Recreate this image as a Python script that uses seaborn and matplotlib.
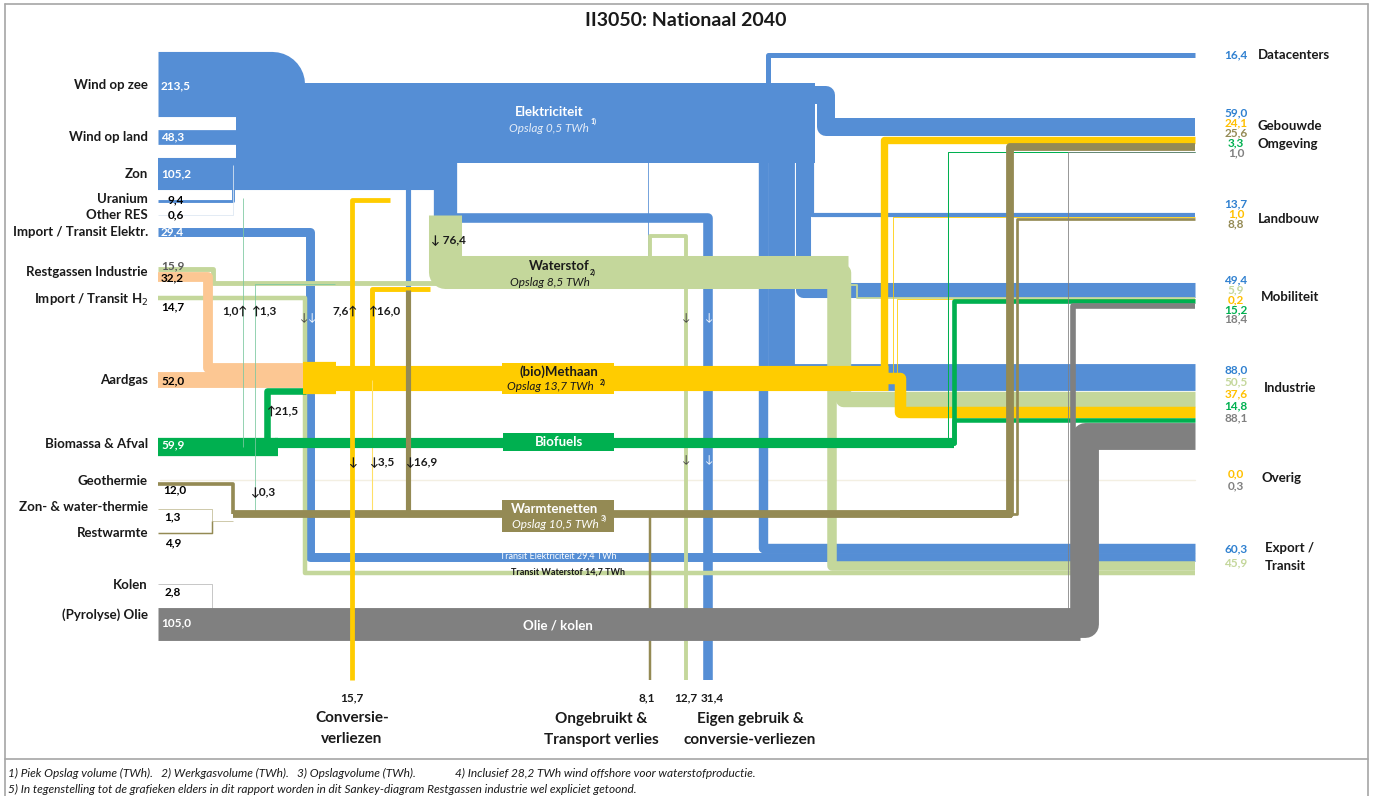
import matplotlib
matplotlib.use("Agg")
import matplotlib.pyplot as plt
from matplotlib.patches import Rectangle
import seaborn as sns

sns.set_theme(style="white")
plt.rcParams['font.family'] = ['Lato', 'DejaVu Sans']

# ---------------- data (TWh) ----------------
elec_src_names = ["Wind op zee", "Wind op land", "Zon", "Uranium", "Other RES", "Import / Transit Elektr."]
elec_src_values = [213.5, 48.3, 105.2, 9.4, 0.6, 29.4]
restgas_values = [15.9, 32.2]          # waterstof, gas
import_h2_value = 14.7
aardgas_value = 52.0
biomassa_value = 59.9
heat_src_names = ["Geothermie", "Zon- & water-thermie", "Restwarmte"]
heat_src_values = [12.0, 1.3, 4.9]
fossil_src_names = ["Kolen", "(Pyrolyse) Olie"]
fossil_src_values = [2.8, 105.0]

sink_names = ["Datacenters", "Gebouwde Omgeving", "Landbouw", "Mobiliteit",
              "Industrie", "Overig", "Export / Transit"]
sink_elec = [16.4, 59.0, 13.7, 49.4, 88.0, None, 60.3]
sink_h2 = [None, None, None, 5.9, 50.5, None, 45.9]
sink_methaan = [None, 24.1, 1.0, 0.2, 37.6, 0.0, None]
sink_heat = [None, 25.6, 8.8, None, None, None, None]
sink_bio = [None, 3.3, None, 15.2, 14.8, None, None]
sink_fossil = [None, 1.0, None, 18.4, 88.1, 0.3, None]

# conversions between carriers
elec_to_h2 = 76.4
elec_to_heat = 16.9
gas_to_h2 = 16.0
bio_to_gas = 21.5
gas_to_heat = 3.5
small_flows = [1.0, 1.3, 7.6, 0.3]

loss_methaan = 15.7
loss_heat = 8.1
loss_h2 = 12.7
loss_elec = 31.4

# ---------------- styling / layout ----------------
COL = {"E": "#558ed5", "H": "#c4d79b", "M": "#ffcc00", "W": "#948a54",
       "B": "#00b050", "O": "#808080", "P": "#fcc793"}
TXT = {"E": "#2f80d0", "H": "#c4d79b", "M": "#ffc000", "W": "#948a54",
       "B": "#00b050", "O": "#808080"}
ZORD = {"E": 2, "H": 3, "M": 4.6, "W": 6, "B": 5, "O": 7}
pal = sns.color_palette([COL[k] for k in "EHMWBO"])

S = 0.305            # pixels per TWh
PX2PT = 72 / 100
X_END = 1195
Y_LOSS = 680

fig = plt.figure(figsize=(13.73, 7.96), dpi=100)
ax = fig.add_axes([0, 0, 1, 1])
ax.set_xlim(0, 1373)
ax.set_ylim(796, 0)
ax.axis("off")


def band(pts, width_px, color, z, alpha=1.0):
    clean = [pts[0]]
    for p in pts[1:]:
        if p != clean[-1]:
            clean.append(p)
    xs, ys = zip(*clean)
    ax.plot(xs, ys, color=color, lw=max(width_px, 0.8) * PX2PT, alpha=alpha,
            solid_joinstyle="round", solid_capstyle="butt", zorder=z)


def flow(pts, value, color, z):
    band(pts, value * S, color, z)


# stack every sink from its top
carrier_order = ["E", "H", "M", "W", "B", "O"]
sink_table = {"E": sink_elec, "H": sink_h2, "M": sink_methaan,
              "W": sink_heat, "B": sink_bio, "O": sink_fossil}
sink_top = [52.5, 118, 213, 282, 364, 478, 543]
seg = {}
for i, top in enumerate(sink_top):
    cur = top
    for c in carrier_order:
        v = sink_table[c][i]
        if v is not None:
            seg[(i, c)] = cur
            cur += v * S


def to_sink(c, value, start, lane, sink, offset=0.0):
    y = seg[(sink, c)] + (offset + value / 2) * S
    pts = list(start) + [(lane, start[-1][1]), (lane, y), (X_END, y)]
    band(pts, value * S, COL[c], ZORD[c])


GEB, LAN, MOB, IND, OVE, EXP = 1, 2, 3, 4, 5, 6

# ---------------- Elektriciteit ----------------
ax.add_patch(Rectangle((236, 83), 815 - 236, 80, color=COL["E"], zorder=2, lw=0))
flow([(158, 84), (272, 84), (272, 120)], elec_src_values[0], COL["E"], 2)
flow([(158, 137), (245, 137)], elec_src_values[1], COL["E"], 2)
flow([(158, 174), (452, 174)], elec_src_values[2], COL["E"], 2)
flow([(158, 201), (233, 201), (233, 165)], elec_src_values[3], COL["E"], 2)
flow([(158, 215), (233, 215), (233, 165)], elec_src_values[4], "#dce6f2", 2)
flow([(445, 160), (445, 222)], elec_to_h2, COL["E"], 2)
flow([(440, 218), (708, 218), (708, Y_LOSS)], loss_elec, COL["E"], 2)
flow([(408, 160), (408, 292)], elec_to_heat, COL["E"], 2)
flow([(648, 160), (648, 262)], small_flows[3], COL["E"], 2)
to_sink("E", sink_elec[0], [(768, 95)], 768, 0)
to_sink("E", sink_elec[GEB], [(790, 95), (826, 95)], 826, GEB)
to_sink("E", sink_elec[LAN], [(812, 150)], 812, LAN)
to_sink("E", sink_elec[MOB], [(803, 150)], 803, MOB)
to_sink("E", sink_elec[IND], [(781, 150)], 781, IND)
transit_e = elec_src_values[5]
to_sink("E", sink_elec[EXP] - transit_e, [(763, 150)], 763, EXP)
to_sink("E", transit_e, [(158, 232), (310, 232)], 310, EXP, offset=sink_elec[EXP] - transit_e)

# ---------------- Waterstof ----------------
h2_bus = (elec_to_h2 + restgas_values[0] + gas_to_h2) * S
band([(445, 215), (445, 272), (848, 272)], h2_bus, COL["H"], 3)
flow([(158, 269), (213, 269), (213, 283), (445, 283)], restgas_values[0], COL["H"], 3)
to_sink("H", import_h2_value, [(158, 298), (305, 298)], 305, EXP, offset=sink_h2[EXP] - import_h2_value)
to_sink("H", sink_h2[IND], [(700, 272), (843, 272)], 843, IND)
to_sink("H", sink_h2[EXP] - import_h2_value, [(700, 272), (832, 272)], 832, EXP)
to_sink("H", sink_h2[MOB], [(840, 285), (857, 285)], 857, MOB)
flow([(650, 265), (650, 236), (686, 236), (686, Y_LOSS)], loss_h2, COL["H"], 3)

# ---------------- (bio)Methaan ----------------
flow([(158, 380), (306, 380)], aardgas_value, COL["P"], 4)
flow([(158, 277), (208, 277), (208, 368), (306, 368)], restgas_values[1], COL["P"], 4)
flow([(267, 447), (267, 391), (306, 391)], bio_to_gas, COL["B"], 4)
gas_in = (aardgas_value + restgas_values[1] + bio_to_gas) * S
band([(303, 378), (336, 378)], gas_in, COL["M"], 4.5)
gas_out = sum(v for v in sink_methaan if v) + gas_to_h2 + gas_to_heat
band([(330, 378), (888, 378)], gas_out * S, COL["M"], 4.5)
for sink, lane in [(GEB, 884), (LAN, 893), (MOB, 897), (IND, 900)]:
    to_sink("M", sink_methaan[sink], [(860, 378), (lane, 378)], lane, sink)
flow([(372, 378), (372, 289), (430, 289)], gas_to_h2, COL["M"], 4.6)
flow([(390, 200), (352, 200), (352, Y_LOSS)], loss_methaan, COL["M"], 8)
flow([(372, 380), (372, 516), (405, 516)], gas_to_heat, "#ffe066", 4.6)

# ---------------- Biofuels ----------------
flow([(158, 447), (278, 447)], biomassa_value, COL["B"], 5)
bio_out = sum(v for v in sink_bio if v)
band([(275, 443), (954, 443)], bio_out * S, COL["B"], 5)
to_sink("B", sink_bio[MOB], [(900, 443), (954, 443)], 954, MOB)
to_sink("B", sink_bio[IND], [(900, 443), (954, 443)], 954, IND)
to_sink("B", sink_bio[GEB], [(900, 443), (948, 443)], 948, GEB)
flow([(243, 447), (243, 198)], small_flows[0], "#7cc9a0", 5)
flow([(255, 512), (255, 284), (335, 284)], small_flows[1], "#7cc9a0", 5)

# ---------------- Warmtenetten ----------------
flow([(408, 290), (408, 514), (440, 514)], elec_to_heat, COL["W"], 6)
flow([(158, 484), (233, 484), (233, 514)], heat_src_values[0], COL["W"], 6)
flow([(158, 509), (212, 509), (212, 521), (233, 521)], heat_src_values[1], "#c4bd97", 6)
flow([(158, 533), (212, 533), (212, 521)], heat_src_values[2], COL["W"], 6)
band([(233, 514), (1012, 514)], sink_heat[GEB] * S, COL["W"], 6)
to_sink("W", sink_heat[GEB], [(900, 514), (1010, 514)], 1010, GEB)
to_sink("W", sink_heat[LAN], [(900, 514), (1017, 514)], 1017, LAN)
flow([(650, 514), (650, Y_LOSS)], loss_heat, COL["W"], 6)

# ---------------- Olie / kolen ----------------
flow([(158, 584), (212, 584), (212, 610)], fossil_src_values[0], "#bfbfbf", 7)
band([(158, 624), (1080, 624)], sum(fossil_src_values) * S, COL["O"], 7)
to_sink("O", sink_fossil[IND], [(1000, 624), (1085, 624)], 1085, IND)
to_sink("O", sink_fossil[MOB], [(1000, 624), (1073, 624)], 1073, MOB)
to_sink("O", sink_fossil[GEB], [(1000, 624), (1068, 624)], 1068, GEB)
ax.plot([160, X_END], [480, 480], color="#f3efe2", lw=1, zorder=1)

# ---------------- node labels ----------------
left_names = elec_src_names + ["Restgassen Industrie", "Import / Transit H$_2$", "Aardgas",
                               "Biomassa & Afval"] + heat_src_names + fossil_src_names
left_name_y = [85, 137, 174, 199, 215, 232, 272, 300, 380, 444, 481, 507, 533, 585, 615]
for name, y in zip(left_names, left_name_y):
    ax.text(148, y, name, ha="right", va="center", fontsize=9.5, weight="bold", color="#1a1a1a", zorder=10)


def fmt(v):
    return f"{v:.1f}".replace(".", ",")


left_vals = [(elec_src_values[0], 161, 86, "white"), (elec_src_values[1], 161, 137, "white"),
             (elec_src_values[2], 161, 174, "white"), (elec_src_values[3], 168, 200, "black"),
             (elec_src_values[4], 168, 215, "black"), (elec_src_values[5], 161, 232, "white"),
             (restgas_values[0], 161, 266, "#595959"), (restgas_values[1], 161, 278, "black"),
             (import_h2_value, 161, 307, "black"), (aardgas_value, 161, 381, "black"),
             (biomassa_value, 161, 445, "white"), (heat_src_values[0], 163, 490, "black"),
             (heat_src_values[1], 164, 517, "black"), (heat_src_values[2], 165, 543, "black"),
             (fossil_src_values[0], 165, 592, "black"), (fossil_src_values[1], 161, 623, "white")]
for v, x, y, c in left_vals:
    ax.text(x, y, fmt(v), ha="left", va="center", fontsize=8.5, weight="bold", color=c, zorder=10)

# right side
sink_label_y = [55, 113, 204, 280, 370, 474, 549]
sink_label_step = [10, 10, 10, 9.8, 12, 12, 14]
for i in range(len(sink_names)):
    k = 0
    for c in carrier_order:
        v = sink_table[c][i]
        if v is None:
            continue
        ax.text(1236, sink_label_y[i] + k * sink_label_step[i], fmt(v), ha="center", va="center",
                fontsize=8.5, weight="bold", color=TXT[c], zorder=10)
        k += 1
sink_text = [("Datacenters", 1258, 55), ("Gebouwde", 1258, 126), ("Omgeving", 1258, 144),
             ("Landbouw", 1258, 219), ("Mobiliteit", 1261, 297), ("Industrie", 1264, 388),
             ("Overig", 1262, 478), ("Export /", 1265, 548), ("Transit", 1265, 566)]
for t, x, y in sink_text:
    ax.text(x, y, t, ha="left", va="center", fontsize=9.5, weight="bold", color="#1a1a1a", zorder=10)

# carrier labels
ax.text(549, 112, "Elektriciteit", ha="center", va="center", fontsize=9.5, weight="bold", color="white", zorder=10)
ax.text(549, 128, "Opslag 0,5 TWh", ha="center", va="center", fontsize=8.5, style="italic", color="#e4ecf7", zorder=10)
ax.text(594, 121, "1)", ha="center", va="center", fontsize=5, weight="bold", color="white", zorder=10)
ax.text(559, 266, "Waterstof", ha="center", va="center", fontsize=9.5, weight="bold", color="#1a1a1a", zorder=10)
ax.text(550, 282, "Opslag 8,5 TWh", ha="center", va="center", fontsize=8.5, style="italic", color="#1a1a1a", zorder=10)
ax.text(593, 272, "2)", ha="center", va="center", fontsize=5, weight="bold", color="#1a1a1a", zorder=10)
ax.add_patch(Rectangle((502, 363), 112, 31, color=COL["M"], zorder=9, lw=0))
ax.text(559, 372, "(bio)Methaan", ha="center", va="center", fontsize=9.5, weight="bold", color="#1a1a1a", zorder=10)
ax.text(550, 387, "Opslag 13,7 TWh", ha="center", va="center", fontsize=8.5, style="italic", color="#1a1a1a", zorder=10)
ax.text(603, 382, "2)", ha="center", va="center", fontsize=5, weight="bold", color="#1a1a1a", zorder=10)
ax.add_patch(Rectangle((503, 433), 111, 18, color=COL["B"], zorder=9, lw=0))
ax.text(559, 442, "Biofuels", ha="center", va="center", fontsize=9.5, weight="bold", color="white", zorder=10)
ax.add_patch(Rectangle((502, 500), 112, 32, color=COL["W"], zorder=9, lw=0))
ax.text(555, 509, "Warmtenetten", ha="center", va="center", fontsize=9.5, weight="bold", color="white", zorder=10)
ax.text(555, 524, "Opslag 10,5 TWh", ha="center", va="center", fontsize=8.5, style="italic", color="white", zorder=10)
ax.text(604, 518, "3)", ha="center", va="center", fontsize=5, weight="bold", color="white", zorder=10)
ax.text(558, 625, "Olie / kolen", ha="center", va="center", fontsize=9.5, weight="bold", color="white", zorder=10)
ax.text(558, 556, f"Transit Elektriciteit {fmt(transit_e)} TWh", ha="center", va="center",
        fontsize=6.5, color="white", zorder=10)
ax.text(568, 572, f"Transit Waterstof {fmt(import_h2_value)} TWh", ha="center", va="center",
        fontsize=6.5, weight="bold", color="#1a1a1a", zorder=10)

# conversion arrows
arrows = [("1,0↑", 247, 312, "right"), ("↑1,3", 251, 312, "left"), ("7,6↑", 358, 312, "right"),
          ("↑16,0", 368, 312, "left"), ("↓ " + fmt(elec_to_h2), 431, 240, "left"),
          ("↑" + fmt(bio_to_gas), 266, 412, "left"), ("↓" + fmt(gas_to_heat), 369, 463, "left"),
          ("↓" + fmt(elec_to_heat), 405, 463, "left"), ("↓0,3", 250, 492, "left"),
          ("↓", 352, 462, "center")]
for t, x, y, ha in arrows:
    ax.text(x, y, t, ha=ha, va="center", fontsize=8.5, weight="bold", color="#1a1a1a", zorder=10)
for x, c in [(304, "#404040"), (312, "white"), (686, "#404040"), (709, "white")]:
    ax.text(x, 318, "↓", ha="center", va="center", fontsize=8, color=c, zorder=10)
for x, c in [(686, "#404040"), (709, "white")]:
    ax.text(x, 460, "↓", ha="center", va="center", fontsize=8, color=c, zorder=10)

# losses at the bottom
for v, x in [(loss_methaan, 352), (loss_heat, 647), (loss_h2, 686), (loss_elec, 712)]:
    ax.text(x, 698, fmt(v), ha="center", va="center", fontsize=8.5, weight="bold", color="#1a1a1a", zorder=10)
for t, x, y in [("Conversie-", 352, 718), ("verliezen", 352, 739), ("Ongebruikt &", 601, 719),
                ("Transport verlies", 601, 740), ("Eigen gebruik &", 750, 719),
                ("conversie-verliezen", 750, 740)]:
    ax.text(x, y, t, ha="center", va="center", fontsize=11, weight="bold", color="#1a1a1a", zorder=10)

# title, frame, footnotes
ax.text(686, 21, "II3050: Nationaal 2040", ha="center", va="center", fontsize=14, weight="bold", color="#1a1a1a")
for xs, ys in [([5, 5], [4, 796]), ([1368, 1368], [4, 796]), ([5, 1368], [4, 4]), ([5, 1368], [759, 759])]:
    ax.plot(xs, ys, color="#a6a6a6", lw=1.2, zorder=1)
ax.text(8, 773, "1) Piek Opslag volume (TWh).   2) Werkgasvolume (TWh).   3) Opslagvolume (TWh).",
        ha="left", va="center", fontsize=8.6, style="italic", color="#1a1a1a")
ax.text(455, 773, "4) Inclusief 28,2 TWh wind offshore voor waterstofproductie.",
        ha="left", va="center", fontsize=8.6, style="italic", color="#1a1a1a")
ax.text(8, 789, "5) In tegenstelling tot de grafieken elders in dit rapport worden in dit Sankey-diagram "
        "Restgassen industrie wel expliciet getoond.", ha="left", va="center", fontsize=8.6,
        style="italic", color="#1a1a1a")

fig.savefig("out.png", dpi=100)
